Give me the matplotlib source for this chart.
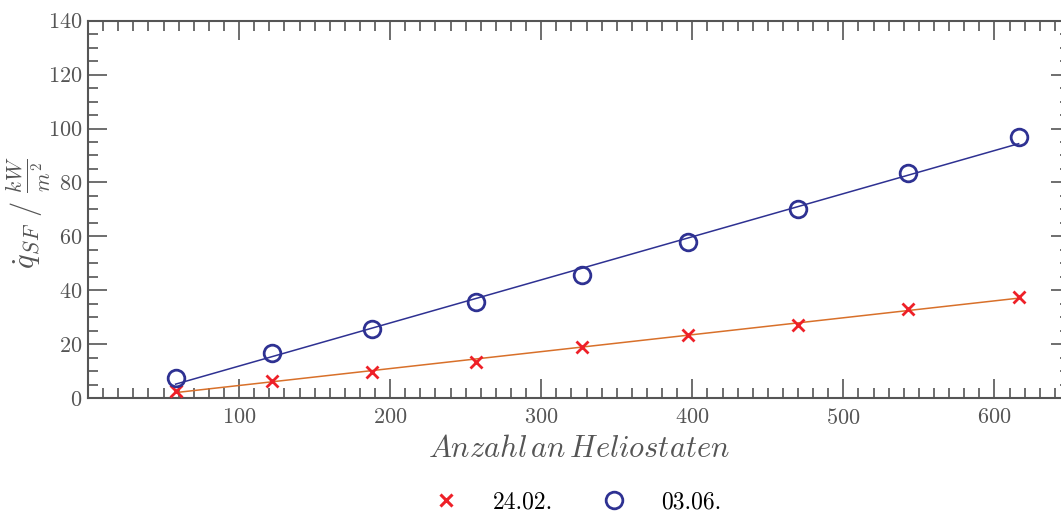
import numpy as np
import matplotlib
matplotlib.use("Agg")
import matplotlib.pyplot as plt
from matplotlib.ticker import MultipleLocator

plt.rcParams['font.family'] = 'serif'
plt.rcParams['font.serif'] = ['cmr10']
plt.rcParams['mathtext.fontset'] = 'cm'
plt.rcParams['axes.formatter.use_mathtext'] = True

# Data
heliostats = [58, 122, 188, 257, 327, 397, 470, 543, 616]
q_2402 = [2.7, 6.4, 9.8, 13.5, 18.9, 23.4, 27.1, 33.0, 37.5]
q_0306 = [7.3, 16.6, 25.5, 35.6, 45.6, 57.9, 70.1, 83.4, 97.0]
labels = ["24.02.", "03.06."]

x = np.array(heliostats)
fit_a = np.polyfit(x, q_2402, 1)
fit_b = np.polyfit(x, q_0306, 1)
xl = np.array([x.min(), x.max()])

gray = '#555555'
blue = '#2e3192'
red = '#ee2028'
orange = '#d8702a'

fig = plt.figure(figsize=(10.61, 5.12), dpi=100)
ax = fig.add_axes([88/1061, 1-398/512, (1070-88)/1061, (398-20.7)/512])

ax.plot(xl, np.polyval(fit_b, xl), color=blue, lw=1.1, zorder=2)
ax.plot(xl, np.polyval(fit_a, xl), color=orange, lw=1.1, zorder=2)
ax.plot(x, q_2402, linestyle='none', marker='x', ms=8, mew=2, color=red, zorder=3)
ax.plot(x, q_0306, linestyle='none', marker='o', ms=12, mew=2, mfc='none', mec=blue, zorder=3)

ax.set_xlim(0, 650)
ax.set_ylim(0, 140)
ax.xaxis.set_major_locator(MultipleLocator(100))
ax.xaxis.set_minor_locator(MultipleLocator(10))
ax.yaxis.set_major_locator(MultipleLocator(20))
ax.yaxis.set_minor_locator(MultipleLocator(5))
ax.tick_params(which='both', direction='in', top=True, right=True, color=gray, labelcolor=gray, labelsize=16, width=1.2)
ax.tick_params(which='major', length=14)
ax.tick_params(which='minor', length=7.2)
ax.tick_params(axis='x', which='major', pad=7)
ax.tick_params(axis='y', which='major', pad=4)
ax.set_xticks([100, 200, 300, 400, 500, 600])
for s in ax.spines.values():
    s.set_color(gray)
    s.set_linewidth(1.5)

ax.set_xlabel(r'$Anzahl\,an\,Heliostaten$', fontsize=22, color=gray, labelpad=6)
ax.set_ylabel(r'$\dot{q}_{SF}\ /\ \frac{kW}{m^2}$', fontsize=22, color=gray)
ax.yaxis.set_label_coords(-0.036, 0.49)

h1 = plt.Line2D([], [], linestyle='none', marker='x', ms=9, mew=2.2, color=red)
h2 = plt.Line2D([], [], linestyle='none', marker='o', ms=12, mew=2, mfc='none', mec=blue)
fig.legend([h1, h2], labels, loc='center', bbox_to_anchor=(0.539, 0.0195), ncol=2,
           frameon=False, fontsize=17, handletextpad=1.0, columnspacing=1.6)

fig.savefig('out.png', dpi=100)
